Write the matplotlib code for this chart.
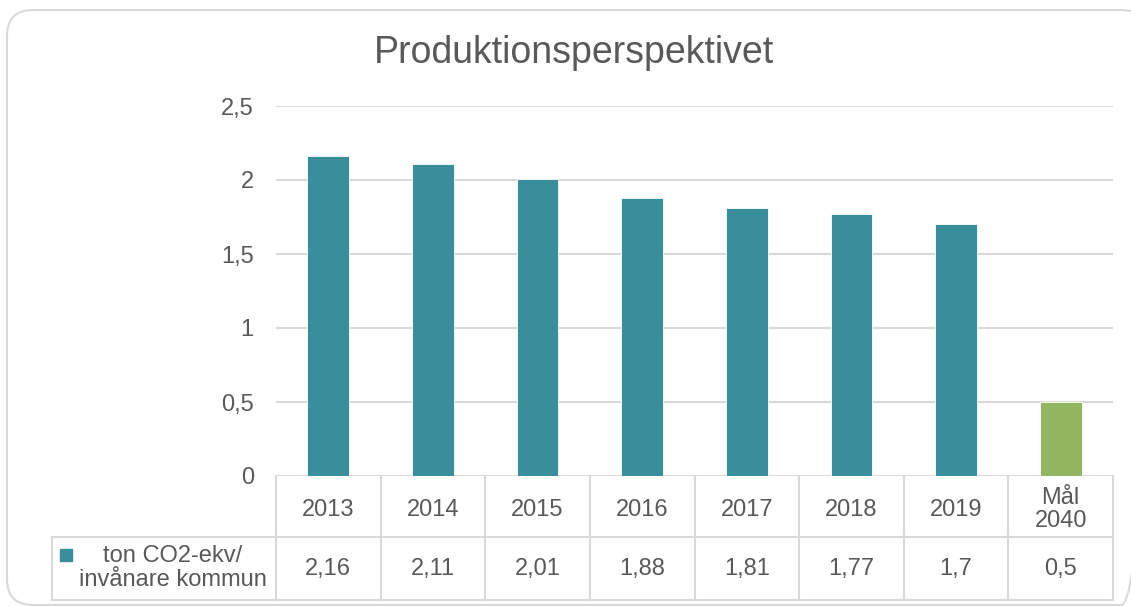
import matplotlib.pyplot as plt
from matplotlib.patches import FancyBboxPatch, Rectangle
from matplotlib.transforms import blended_transform_factory

plt.rcParams['font.family'] = ['Liberation Sans', 'DejaVu Sans']

# data
categories = ['2013', '2014', '2015', '2016', '2017', '2018', '2019', 'Mål\n2040']
values = [2.16, 2.11, 2.01, 1.88, 1.81, 1.77, 1.7, 0.5]
value_labels = ['2,16', '2,11', '2,01', '1,88', '1,81', '1,77', '1,7', '0,5']
series_name = 'ton CO2-ekv/\ninvånare kommun'
yticks = [0, 0.5, 1, 1.5, 2, 2.5]
ytick_labels = ['0', '0,5', '1', '1,5', '2', '2,5']

teal = '#388E9B'
green = '#92B560'
grid_c = '#D9D9D9'
text_c = '#595959'
colors = [teal] * 7 + [green]
fs = 17

W, H = 1131, 607
fig = plt.figure(figsize=(W / 100, H / 100), dpi=100)

# overlay in pixel coordinates for the rounded frame and legend cell
bg = fig.add_axes([0, 0, 1, 1])
bg.set_xlim(0, W)
bg.set_ylim(H, 0)
bg.axis('off')
bg.add_patch(FancyBboxPatch((7, 10), 1140, 595, boxstyle='round,pad=0,rounding_size=26',
                            fill=False, edgecolor=grid_c, linewidth=1.5))

ax_l, ax_r, ax_t, ax_b = 276, 1113, 106, 476
ax = fig.add_axes([ax_l / W, 1 - ax_b / H, (ax_r - ax_l) / W, (ax_b - ax_t) / H])

x = list(range(len(categories)))
ax.bar(x, values, width=0.4, color=colors, edgecolor='white', linewidth=0.6, zorder=3)

ax.set_xlim(-0.5, len(categories) - 0.5)
ax.set_ylim(0, 2.5)
ax.set_yticks(yticks)
ax.set_yticklabels(ytick_labels, fontsize=fs, color=text_c)
ax.tick_params(axis='y', length=0, pad=16)
ax.set_xticks([])
ax.grid(axis='y', color=grid_c, linewidth=1.5, zorder=0)
for s in ax.spines.values():
    s.set_visible(False)

bg.text(574, 53, 'Produktionsperspektivet', ha='center', va='center',
        fontsize=27, color=text_c)

# data table below the axes
ax_h = ax_b - ax_t
r1 = -(537 - ax_b) / ax_h
r2 = -(600 - ax_b) / ax_h
tr = blended_transform_factory(ax.transData, ax.transAxes)
line_kw = dict(color=grid_c, linewidth=1.5, clip_on=False, transform=tr)
n = len(categories)
for i in range(n + 1):
    ax.plot([i - 0.5, i - 0.5], [0, r2], **line_kw)
ax.plot([-0.5, n - 0.5], [r1, r1], **line_kw)
ax.plot([-0.5, n - 0.5], [r2, r2], **line_kw)
for i, (c, v) in enumerate(zip(categories, value_labels)):
    ax.text(i, r1 / 2 - 3 / ax_h, c, ha='center', va='center', fontsize=fs,
            color=text_c, transform=tr, linespacing=1.1)
    ax.text(i, (r1 + r2) / 2, v, ha='center', va='center', fontsize=fs,
            color=text_c, transform=tr)

# legend cell
lk = dict(color=grid_c, linewidth=1.5)
bg.plot([52, ax_l], [537, 537], **lk)
bg.plot([52, ax_l], [600, 600], **lk)
bg.plot([52, 52], [537, 600], **lk)
bg.add_patch(Rectangle((60, 549), 12, 12, color=teal))
bg.text(173, 568, series_name, ha='center', va='center',
        fontsize=fs, color=text_c, linespacing=1.12)

fig.savefig('out.png', dpi=100)
